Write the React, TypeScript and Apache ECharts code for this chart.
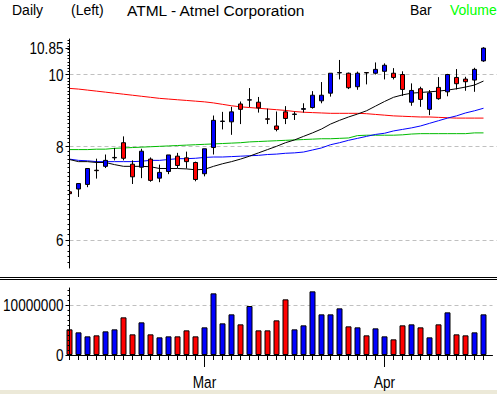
import React, { useEffect, useRef } from "react";
import * as echarts from "echarts";

// Trading days shown (Feb 7 – Apr 16, 2002)
const dates = [
  "2002-02-07", "2002-02-08", "2002-02-11", "2002-02-12", "2002-02-13", "2002-02-14", "2002-02-15",
  "2002-02-19", "2002-02-20", "2002-02-21", "2002-02-22", "2002-02-25", "2002-02-26", "2002-02-27", "2002-02-28",
  "2002-03-01", "2002-03-04", "2002-03-05", "2002-03-06", "2002-03-07", "2002-03-08", "2002-03-11", "2002-03-12",
  "2002-03-13", "2002-03-14", "2002-03-15", "2002-03-18", "2002-03-19", "2002-03-20", "2002-03-21", "2002-03-22",
  "2002-03-25", "2002-03-26", "2002-03-27", "2002-03-28",
  "2002-04-01", "2002-04-02", "2002-04-03", "2002-04-04", "2002-04-05", "2002-04-08", "2002-04-09", "2002-04-10",
  "2002-04-11", "2002-04-12", "2002-04-15", "2002-04-16",
];

// [open, close, low, high]
const ohlc = [
  [6.96, 6.92, 6.85, 7.2], [7.02, 7.14, 6.85, 7.14], [7.12, 7.48, 7.06, 7.48], [7.44, 7.43, 7.25, 7.71],
  [7.53, 7.67, 7.49, 7.81], [7.73, 7.74, 7.67, 7.97], [8.1, 7.72, 7.67, 8.26], [7.58, 7.29, 7.13, 7.67],
  [7.51, 7.89, 7.26, 7.95], [7.7, 7.21, 7.18, 7.74], [7.26, 7.39, 7.17, 7.57], [7.41, 7.8, 7.35, 7.8],
  [7.77, 7.55, 7.49, 7.85], [7.73, 7.64, 7.48, 7.88], [7.62, 7.23, 7.19, 7.64], [7.36, 7.95, 7.3, 7.95],
  [7.98, 8.68, 7.81, 8.81], [8.65, 8.66, 8.44, 8.91], [8.64, 8.91, 8.3, 9.05], [9.13, 8.98, 8.58, 9.2],
  [9.24, 9.25, 9.04, 9.59], [9.18, 9.02, 8.89, 9.33], [8.72, 8.71, 8.58, 9.0], [8.53, 8.44, 8.39, 8.92],
  [8.91, 8.73, 8.58, 9.07], [8.84, 8.85, 8.69, 8.92], [8.98, 9.0, 8.89, 9.15], [9.03, 9.38, 9.0, 9.5],
  [9.22, 9.38, 9.15, 9.77], [9.44, 10.04, 9.34, 10.04], [10.05, 10.06, 9.85, 10.46], [10.04, 9.6, 9.56, 10.06],
  [9.63, 10.04, 9.54, 10.09], [10.06, 10.05, 9.7, 10.07], [10.04, 10.16, 10.0, 10.38], [10.1, 10.29, 9.85, 10.35],
  [10.04, 9.91, 9.85, 10.2], [10.0, 9.55, 9.36, 10.1], [9.18, 9.52, 9.08, 9.73], [9.57, 9.26, 9.05, 9.63],
  [8.98, 9.45, 8.82, 9.53], [9.61, 9.28, 9.25, 9.92], [9.48, 10.0, 9.35, 10.02], [9.91, 9.72, 9.55, 10.17],
  [9.86, 9.78, 9.51, 9.93], [9.83, 10.16, 9.48, 10.21], [10.43, 10.85, 10.4, 10.88],
];

const volumes = [
  5130000, 4530000, 3730000, 3930000, 4730000, 5130000, 7530000, 4130000, 6530000, 4130000,
  3530000, 3730000, 3730000, 4930000, 3730000, 5530000, 12330000, 6330000, 8130000, 6130000,
  9800000, 4930000, 4930000, 6930000, 11130000, 5130000, 5930000, 12730000, 8130000, 8130000,
  9330000, 5730000, 5530000, 3930000, 5330000, 3730000, 3130000, 5930000, 6130000, 5530000,
  3530000, 6130000, 8530000, 4130000, 3930000, 4530000, 8130000,
];

// moving averages
const maBlack = [
  7.69, 7.64, 7.64, 7.62, 7.62, 7.57, 7.53, 7.53, 7.53, 7.52, 7.48, 7.48, 7.48, 7.47, 7.45, 7.46,
  7.53, 7.59, 7.64, 7.7, 7.77, 7.85, 7.93, 8.01, 8.1, 8.17, 8.26, 8.35, 8.45, 8.58, 8.68, 8.77,
  8.85, 8.94, 9.07, 9.2, 9.32, 9.39, 9.44, 9.46, 9.48, 9.5, 9.53, 9.57, 9.62, 9.68, 9.8,
];
const maBlue = [
  7.7, 7.67, 7.66, 7.64, 7.64, 7.64, 7.64, 7.64, 7.65, 7.67, 7.67, 7.69, 7.71, 7.71, 7.72, 7.74,
  7.75, 7.75, 7.76, 7.77, 7.78, 7.79, 7.81, 7.82, 7.84, 7.85, 7.87, 7.92, 7.97, 8.05, 8.1, 8.16,
  8.21, 8.26, 8.31, 8.34, 8.4, 8.44, 8.48, 8.53, 8.6, 8.67, 8.74, 8.8, 8.88, 8.94, 9.01,
];
const maGreen = [
  7.93, 7.93, 7.93, 7.94, 7.94, 7.96, 7.97, 7.98, 7.99, 8.0, 8.01, 8.02, 8.03, 8.04, 8.05, 8.06,
  8.07, 8.08, 8.09, 8.1, 8.12, 8.13, 8.14, 8.15, 8.16, 8.17, 8.18, 8.19, 8.2, 8.2, 8.21, 8.22,
  8.28, 8.29, 8.29, 8.29, 8.29, 8.3, 8.32, 8.33, 8.33, 8.33, 8.33, 8.33, 8.33, 8.35, 8.35,
];
const maRed = [
  9.58, 9.56, 9.53, 9.5, 9.47, 9.44, 9.41, 9.38, 9.35, 9.32, 9.29, 9.27, 9.25, 9.23, 9.21, 9.19,
  9.16, 9.12, 9.08, 9.05, 9.03, 9.01, 8.99, 8.97, 8.95, 8.92, 8.9, 8.89, 8.88, 8.87, 8.87, 8.87,
  8.87, 8.86, 8.84, 8.82, 8.8, 8.79, 8.78, 8.77, 8.77, 8.76, 8.75, 8.74, 8.74, 8.74, 8.74,
];

const priceLabels = [6, 8, 10, 10.85];
const priceGrid = [6, 8, 10];
const volumeLabels = [0, 10000000];
const monthNames: Record<string, string> = { "02": "Feb", "03": "Mar", "04": "Apr" };

const SANS = "'Liberation Sans', Arial, sans-serif";
const GRID_LEFT = 69.5;
const MAIN_TOP = 39;
const MAIN_H = 229;
const VOL_TOP = 288;
const VOL_H = 67;
const STEP = 9;

export default function App() {
  const ref = useRef<HTMLDivElement>(null);
  useEffect(() => {
    document.body.style.margin = "0";
    if (!ref.current) return;
    const chart = echarts.init(ref.current, undefined, { renderer: "svg" });

    const mainCats = [...dates, "", ""];
    const volCats = [...dates, ""];
    const isMonthStart = (i: number) =>
      i > 0 && i < dates.length && dates[i].slice(5, 7) !== dates[i - 1].slice(5, 7);

    const minorPrice: number[] = [];
    for (let i = 56; i <= 111; i++) minorPrice.push(i / 10);
    const minorVol: number[] = [];
    for (let i = 0; i <= 13; i++) minorVol.push(i * 1000000);

    const pMin = 5.5;
    const pMax = 11.16;
    const vMax = 13400000;

    const lineSeries = (data: number[], color: string) => ({
      type: "line",
      xAxisIndex: 0,
      yAxisIndex: 0,
      data,
      symbol: "none",
      lineStyle: { color, width: 1 },
      silent: true,
      z: 2,
    });

    const headerText = (text: string, x: number, size: number, fill = "#000") => ({
      type: "text", x, y: 10, z: 10,
      style: { text, fill, font: `${size}px ${SANS}`, verticalAlign: "middle" },
    });

    const baseGraphic: any[] = [
      headerText("Daily", 12, 14),
      headerText("(Left)", 71, 14),
      headerText("ATML - Atmel Corporation", 127, 15.5),
      headerText("Bar", 410, 14),
      headerText("Volume", 450, 14, "#00ff00"),
      { type: "line", z: 10, shape: { x1: 0, y1: 277.5, x2: 497, y2: 277.5 }, style: { stroke: "#000", lineWidth: 1 } },
      { type: "line", z: 10, shape: { x1: 0, y1: 279.5, x2: 497, y2: 279.5 }, style: { stroke: "#000", lineWidth: 1 } },
      { type: "rect", z: 10, shape: { x: 0, y: 390, width: 497, height: 4 }, style: { fill: "#ece9d8" } },
      // white mask left of the price plot (clips candle overflow)
      { type: "rect", z: 3, shape: { x: 0, y: MAIN_TOP, width: GRID_LEFT, height: MAIN_H }, style: { fill: "#fff" } },
    ];

    const option: any = {
      animation: false,
      backgroundColor: "#ffffff",
      grid: [
        { left: GRID_LEFT, top: MAIN_TOP, width: STEP * (mainCats.length - 1), height: MAIN_H, outerBoundsMode: "none", containLabel: false },
        { left: GRID_LEFT, top: VOL_TOP, width: STEP * (volCats.length - 1), height: VOL_H, outerBoundsMode: "none", containLabel: false },
      ],
      xAxis: [
        { type: "category", gridIndex: 0, data: mainCats, boundaryGap: false, show: false },
        {
          type: "category", gridIndex: 1, data: volCats, boundaryGap: false, position: "bottom", z: 4,
          axisLine: { show: true, lineStyle: { color: "#000", width: 1 } },
          axisTick: { show: true, interval: (i: number) => i < dates.length, length: 5, lineStyle: { color: "#000" } },
          axisLabel: { show: false },
          splitLine: { show: false },
        },
        {
          type: "category", gridIndex: 1, data: volCats, boundaryGap: false, position: "bottom", z: 4,
          axisLine: { show: false },
          axisTick: { show: true, interval: (i: number) => isMonthStart(i), length: 12, lineStyle: { color: "#000" } },
          axisLabel: { show: false },
          splitLine: { show: false },
        },
      ],
      yAxis: [
        {
          type: "log", logBase: 10, gridIndex: 0, min: pMin, max: pMax, position: "left", z: 4,
          axisLine: { show: true, lineStyle: { color: "#000" } },
          axisTick: { show: true, customValues: priceLabels, length: 4, lineStyle: { color: "#000" } },
          axisLabel: { show: false },
          splitLine: { show: false },
        },
        {
          type: "log", logBase: 10, gridIndex: 0, min: pMin, max: pMax, position: "left", z: 4,
          axisLine: { show: false },
          axisTick: { show: true, customValues: minorPrice, length: 2, lineStyle: { color: "#000" } },
          axisLabel: { show: false },
          splitLine: { show: false },
        },
        {
          type: "log", logBase: 10, gridIndex: 0, min: pMin, max: pMax, position: "left", z: 0,
          axisLine: { show: false },
          axisTick: { show: false, customValues: priceGrid },
          axisLabel: { show: false },
          splitLine: { show: true, lineStyle: { color: "#c0c0c0", type: [4, 3], width: 1 } },
        },
        {
          type: "value", gridIndex: 1, min: 0, max: vMax, position: "left", z: 4,
          axisLine: { show: true, lineStyle: { color: "#000" } },
          axisTick: { show: true, customValues: volumeLabels, length: 4, lineStyle: { color: "#000" } },
          axisLabel: { show: false },
          splitLine: { show: false },
        },
        {
          type: "value", gridIndex: 1, min: 0, max: vMax, position: "left", z: 4,
          axisLine: { show: false },
          axisTick: { show: true, customValues: minorVol, length: 2, lineStyle: { color: "#000" } },
          axisLabel: { show: false },
          splitLine: { show: false },
        },
        {
          type: "value", gridIndex: 1, min: 0, max: vMax, position: "left", z: 0,
          axisLine: { show: false },
          axisTick: { show: false, customValues: [10000000] },
          axisLabel: { show: false },
          splitLine: { show: true, lineStyle: { color: "#c0c0c0", type: [4, 3], width: 1 } },
        },
      ],
      series: [
        {
          type: "candlestick", xAxisIndex: 0, yAxisIndex: 0, data: ohlc, barWidth: 5, clip: true, z: 2,
          itemStyle: { color: "#0000ff", color0: "#ff0000", borderColor: "#000", borderColor0: "#000", borderWidth: 1 },
        },
        lineSeries(maRed, "#ff0000"),
        lineSeries(maGreen, "#00bb00"),
        lineSeries(maBlue, "#0000ff"),
        lineSeries(maBlack, "#000000"),
        {
          type: "bar", xAxisIndex: 1, yAxisIndex: 3, barWidth: 6, clip: true, z: 2,
          data: volumes.map((v, i) => ({
            value: v,
            itemStyle: { color: ohlc[i][1] >= ohlc[i][0] ? "#0000ff" : "#ff0000" },
          })),
          itemStyle: { borderColor: "#000", borderWidth: 1 },
        },
      ],
      graphic: baseGraphic,
    };
    chart.setOption(option);

    // Axis labels in a condensed style, positioned through the chart's own scales
    const labelStyle = (text: string, align: string) => ({
      text, fill: "#000", font: `17px ${SANS}`, align, verticalAlign: "middle",
    });
    const extra: any[] = [];
    priceLabels.forEach((v) => {
      const y = chart.convertToPixel({ yAxisIndex: 0 } as any, v) as unknown as number;
      extra.push({ type: "text", x: GRID_LEFT - 6, y, scaleX: 0.8, z: 10, style: labelStyle(String(v), "right") });
    });
    volumeLabels.forEach((v) => {
      const y = chart.convertToPixel({ yAxisIndex: 3 } as any, v) as unknown as number;
      extra.push({ type: "text", x: GRID_LEFT - 6, y, scaleX: 0.8, z: 10, style: labelStyle(String(v), "right") });
    });
    dates.forEach((d, i) => {
      if (!isMonthStart(i)) return;
      const x = chart.convertToPixel({ xAxisIndex: 2 } as any, i) as unknown as number;
      extra.push({
        type: "text", x, y: VOL_TOP + VOL_H + 27, scaleX: 0.8, z: 10,
        style: labelStyle(monthNames[d.slice(5, 7)], "center"),
      });
    });
    chart.setOption({ graphic: [...baseGraphic, ...extra] });

    return () => chart.dispose();
  }, []);
  return <div ref={ref} style={{ width: 497, height: 394 }} />;
}
